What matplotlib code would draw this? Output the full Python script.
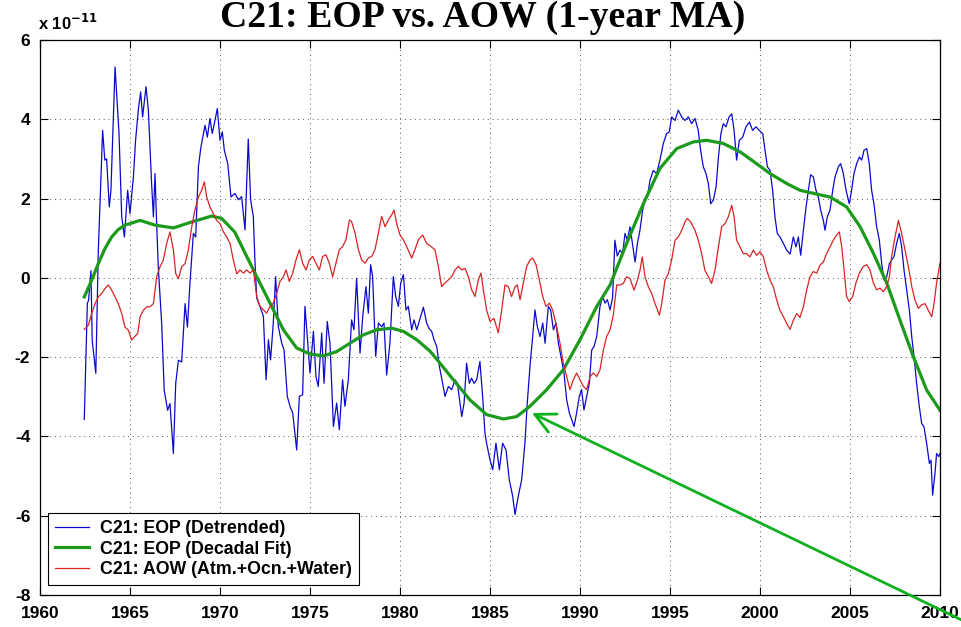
import matplotlib
matplotlib.use("Agg")
import matplotlib.pyplot as plt

plt.rcParams["font.family"] = ["Liberation Sans", "DejaVu Sans"]
plt.rcParams["axes.unicode_minus"] = False

# EOP detrended (units of 1e-11)
eop_year = [
    1962.46, 1962.63, 1962.70, 1962.83, 1962.90, 1963.10, 1963.24, 1963.48, 1963.60, 1963.70,
    1963.85, 1963.94, 1964.17, 1964.39, 1964.54, 1964.69, 1964.87, 1965.00, 1965.19, 1965.31,
    1965.46, 1965.59, 1965.70, 1965.89, 1966.02, 1966.20, 1966.30, 1966.39, 1966.48, 1966.57,
    1966.76, 1966.90, 1967.09, 1967.22, 1967.41, 1967.54, 1967.69, 1967.87, 1968.06, 1968.19,
    1968.33, 1968.52, 1968.65, 1968.80, 1968.94, 1969.17, 1969.30, 1969.44, 1969.57, 1969.72,
    1969.85, 1970.00, 1970.13, 1970.24, 1970.43, 1970.61, 1970.83, 1971.02, 1971.20, 1971.39,
    1971.57, 1971.70, 1971.85, 1971.94, 1972.04, 1972.22, 1972.41, 1972.56, 1972.69, 1972.81,
    1972.96, 1973.09, 1973.24, 1973.43, 1973.56, 1973.74, 1973.89, 1974.04, 1974.26, 1974.41,
    1974.59, 1974.72, 1974.85, 1975.00, 1975.19, 1975.33, 1975.46, 1975.65, 1975.78, 1975.96,
    1976.11, 1976.30, 1976.48, 1976.63, 1976.81, 1976.94, 1977.13, 1977.31, 1977.44, 1977.59,
    1977.78, 1977.93, 1978.11, 1978.24, 1978.37, 1978.48, 1978.65, 1978.80, 1978.98, 1979.11,
    1979.26, 1979.44, 1979.63, 1979.76, 1979.91, 1980.04, 1980.19, 1980.33, 1980.46, 1980.65,
    1980.78, 1980.93, 1981.13, 1981.30, 1981.48, 1981.62, 1981.76, 1981.89, 1982.04, 1982.19,
    1982.37, 1982.50, 1982.69, 1982.87, 1983.06, 1983.19, 1983.33, 1983.43, 1983.56, 1983.70,
    1983.85, 1983.98, 1984.11, 1984.26, 1984.44, 1984.59, 1984.72, 1984.81, 1985.00, 1985.15,
    1985.33, 1985.52, 1985.70, 1985.89, 1986.07, 1986.26, 1986.39, 1986.57, 1986.76, 1986.94,
    1987.07, 1987.22, 1987.37, 1987.50, 1987.63, 1987.78, 1987.93, 1988.06, 1988.24, 1988.37,
    1988.52, 1988.67, 1988.80, 1988.98, 1989.11, 1989.26, 1989.41, 1989.54, 1989.67, 1989.81,
    1989.96, 1990.09, 1990.22, 1990.37, 1990.52, 1990.65, 1990.78, 1990.93, 1991.11, 1991.26,
    1991.39, 1991.52, 1991.67, 1991.81, 1991.94, 1992.07, 1992.22, 1992.37, 1992.50, 1992.63,
    1992.78, 1992.91, 1993.06, 1993.19, 1993.33, 1993.48, 1993.61, 1993.74, 1993.89, 1994.07,
    1994.26, 1994.44, 1994.63, 1994.81, 1994.96, 1995.09, 1995.28, 1995.46, 1995.65, 1995.83,
    1996.02, 1996.20, 1996.39, 1996.57, 1996.70, 1996.85, 1997.00, 1997.13, 1997.26, 1997.41,
    1997.56, 1997.69, 1997.83, 1997.96, 1998.11, 1998.28, 1998.43, 1998.56, 1998.70, 1998.85,
    1999.04, 1999.22, 1999.41, 1999.59, 1999.78, 1999.96, 2000.15, 2000.28, 2000.41, 2000.56,
    2000.70, 2000.83, 2000.96, 2001.11, 2001.30, 2001.48, 2001.67, 2001.85, 2002.00, 2002.13,
    2002.26, 2002.41, 2002.56, 2002.69, 2002.81, 2002.96, 2003.11, 2003.24, 2003.37, 2003.52,
    2003.61, 2003.74, 2003.89, 2004.04, 2004.17, 2004.35, 2004.48, 2004.63, 2004.78, 2004.96,
    2005.09, 2005.22, 2005.37, 2005.52, 2005.65, 2005.78, 2005.93, 2006.07, 2006.20, 2006.33,
    2006.48, 2006.63, 2006.76, 2006.89, 2007.04, 2007.19, 2007.31, 2007.44, 2007.59, 2007.74,
    2007.87, 2008.00, 2008.15, 2008.30, 2008.43, 2008.56, 2008.70, 2008.85, 2008.98, 2009.11,
    2009.26, 2009.41, 2009.50, 2009.59, 2009.72, 2009.81, 2009.93, 2010.00,
]
eop_val = [
    -3.57, -0.65, -0.56, 0.18, -1.57, -2.41, 0.70, 3.72, 2.97, 3.00,
    1.79, 2.20, 5.32, 3.64, 1.54, 1.03, 2.21, 1.62, 2.55, 3.47,
    4.23, 4.69, 4.06, 4.82, 4.23, 2.38, 1.54, 2.63, 1.37, 0.28,
    -1.15, -2.83, -3.34, -3.17, -4.43, -2.66, -2.08, -2.12, -0.65, -1.24,
    -0.14, 1.12, 1.03, 2.80, 3.30, 3.85, 3.55, 4.02, 3.64, 3.97,
    4.27, 3.47, 3.68, 3.22, 2.88, 2.04, 2.13, 1.97, 2.05, 1.21,
    3.50, 1.97, 1.55, 0.45, -0.51, -0.72, -0.97, -2.57, -1.56, -2.07,
    -1.14, 0.03, -1.23, -1.65, -1.82, -2.99, -3.24, -3.41, -4.34, -2.99,
    -2.95, -0.72, -1.48, -2.40, -1.35, -2.49, -2.74, -1.39, -2.66, -1.10,
    -1.65, -3.75, -3.16, -3.83, -2.57, -3.24, -2.57, -1.06, -1.31, -0.01,
    -1.90, -0.97, -0.22, -0.89, 0.33, 0.03, -1.98, -1.14, -1.23, -1.14,
    -2.45, -1.65, 0.03, -0.47, -0.72, -0.13, 0.08, -0.81, -0.72, -1.31,
    -1.06, -1.31, -1.00, -0.74, -1.14, -1.28, -1.35, -1.56, -1.73, -2.24,
    -2.66, -2.99, -2.74, -2.82, -2.57, -2.66, -3.16, -3.50, -3.16, -2.15,
    -2.66, -2.53, -2.66, -2.57, -2.11, -2.99, -3.92, -4.17, -4.59, -4.84,
    -4.17, -4.84, -4.17, -4.34, -5.09, -5.51, -5.97, -5.51, -5.09, -4.17,
    -3.16, -2.24, -1.48, -0.81, -1.23, -1.48, -1.14, -1.65, -0.72, -0.81,
    -1.31, -1.14, -1.65, -2.07, -2.40, -3.08, -3.41, -3.58, -3.75, -3.41,
    -2.99, -2.82, -3.33, -2.99, -2.66, -1.82, -1.73, -1.48, -0.72, -0.47,
    -0.64, -0.55, -0.81, -0.50, 0.95, 0.55, 0.70, 0.61, 1.12, 0.95,
    1.29, 0.87, 0.40, 0.87, 1.20, 1.71, 1.96, 2.04, 2.46, 2.71,
    2.63, 2.97, 3.39, 3.64, 3.68, 4.06, 3.97, 4.23, 4.06, 3.97,
    4.06, 3.89, 4.02, 3.72, 3.22, 2.80, 2.63, 2.38, 1.87, 1.96,
    2.29, 3.05, 3.64, 3.89, 3.81, 4.06, 4.14, 3.72, 2.97, 3.47,
    3.55, 3.81, 3.93, 3.72, 3.81, 3.72, 3.64, 3.22, 2.80, 2.71,
    2.21, 1.54, 1.12, 1.03, 0.87, 0.70, 0.60, 1.03, 0.78, 1.03,
    0.57, 1.20, 1.79, 2.21, 2.60, 2.55, 2.21, 2.04, 1.71, 1.45,
    1.20, 1.54, 1.71, 2.21, 2.55, 2.80, 2.88, 2.63, 2.21, 1.87,
    2.21, 2.63, 2.88, 3.05, 2.97, 3.22, 3.26, 2.88, 2.21, 1.87,
    1.29, 0.95, 0.36, -0.05, 0.03, 0.36, 0.45, 0.53, 0.87, 1.12,
    0.78, 0.20, -0.30, -0.82, -1.49, -1.99, -2.66, -3.24, -3.67, -3.76,
    -4.18, -4.68, -4.60, -5.48, -4.94, -4.43, -4.51, -4.43,
]

# EOP decadal fit
fit_year = [
    1962.46, 1962.87, 1963.24, 1963.61, 1963.98, 1964.35, 1964.72, 1965.56, 1966.39, 1967.41,
    1968.43, 1969.54, 1970.09, 1970.83, 1971.30, 1972.04, 1972.78, 1973.52, 1974.26, 1975.00,
    1975.74, 1976.48, 1977.22, 1977.96, 1978.70, 1979.54, 1980.19, 1980.93, 1981.67, 1982.04,
    1982.96, 1983.89, 1984.81, 1985.74, 1986.48, 1987.22, 1988.15, 1989.07, 1990.00, 1990.93,
    1991.67, 1992.59, 1993.52, 1994.44, 1995.37, 1996.30, 1997.04, 1997.96, 1998.89, 1999.81,
    2000.56, 2001.48, 2002.22, 2002.78, 2003.89, 2004.81, 2005.56, 2006.30, 2007.04, 2007.78,
    2008.52, 2009.26, 2010.00,
]
fit_val = [
    -0.48, -0.06, 0.36, 0.74, 1.03, 1.22, 1.33, 1.45, 1.33, 1.26,
    1.41, 1.56, 1.50, 1.15, 0.71, 0.03, -0.64, -1.31, -1.77, -1.92,
    -1.97, -1.86, -1.65, -1.44, -1.31, -1.27, -1.35, -1.56, -1.85, -2.05,
    -2.57, -3.08, -3.45, -3.56, -3.50, -3.24, -2.82, -2.32, -1.56, -0.72,
    -0.18, 0.87, 1.87, 2.76, 3.26, 3.43, 3.47, 3.39, 3.18, 2.88,
    2.63, 2.38, 2.21, 2.15, 2.04, 1.79, 1.29, 0.62, -0.13, -1.07,
    -1.99, -2.83, -3.34,
]

# AOW (Atm.+Ocn.+Water)
aow_year = [
    1962.46, 1962.69, 1962.87, 1963.06, 1963.24, 1963.43, 1963.61, 1963.80, 1963.98, 1964.17,
    1964.35, 1964.54, 1964.72, 1964.91, 1965.09, 1965.24, 1965.43, 1965.56, 1965.74, 1965.93,
    1966.11, 1966.30, 1966.48, 1966.67, 1966.85, 1967.04, 1967.22, 1967.41, 1967.54, 1967.69,
    1967.87, 1968.06, 1968.24, 1968.43, 1968.61, 1968.80, 1968.98, 1969.13, 1969.26, 1969.44,
    1969.63, 1969.81, 1970.00, 1970.19, 1970.37, 1970.56, 1970.74, 1970.93, 1971.11, 1971.30,
    1971.48, 1971.67, 1971.85, 1972.04, 1972.22, 1972.41, 1972.59, 1972.78, 1972.96, 1973.15,
    1973.33, 1973.52, 1973.67, 1973.85, 1974.04, 1974.22, 1974.41, 1974.59, 1974.78, 1974.96,
    1975.15, 1975.33, 1975.52, 1975.70, 1975.89, 1976.07, 1976.26, 1976.44, 1976.63, 1976.81,
    1977.00, 1977.19, 1977.31, 1977.50, 1977.69, 1977.87, 1978.06, 1978.24, 1978.43, 1978.61,
    1978.80, 1978.98, 1979.17, 1979.35, 1979.54, 1979.67, 1979.81, 1980.00, 1980.19, 1980.37,
    1980.65, 1980.83, 1981.02, 1981.26, 1981.48, 1981.67, 1981.94, 1982.13, 1982.31, 1982.50,
    1982.69, 1982.87, 1983.06, 1983.24, 1983.43, 1983.61, 1983.80, 1983.98, 1984.17, 1984.35,
    1984.50, 1984.63, 1984.81, 1985.00, 1985.22, 1985.46, 1985.65, 1985.83, 1986.02, 1986.20,
    1986.39, 1986.52, 1986.67, 1986.85, 1987.04, 1987.22, 1987.37, 1987.56, 1987.74, 1987.93,
    1988.11, 1988.30, 1988.48, 1988.70, 1988.89, 1989.07, 1989.26, 1989.44, 1989.63, 1989.81,
    1990.00, 1990.19, 1990.37, 1990.56, 1990.74, 1990.93, 1991.11, 1991.30, 1991.48, 1991.67,
    1991.85, 1992.04, 1992.22, 1992.41, 1992.59, 1992.78, 1993.00, 1993.19, 1993.33, 1993.46,
    1993.61, 1993.80, 1993.98, 1994.17, 1994.41, 1994.54, 1994.72, 1994.91, 1995.09, 1995.28,
    1995.46, 1995.65, 1995.83, 1995.96, 1996.15, 1996.39, 1996.57, 1996.76, 1996.94, 1997.13,
    1997.31, 1997.50, 1997.69, 1997.87, 1998.06, 1998.24, 1998.43, 1998.56, 1998.70, 1998.89,
    1999.07, 1999.26, 1999.44, 1999.63, 1999.81, 2000.00, 2000.19, 2000.37, 2000.56, 2000.74,
    2000.93, 2001.11, 2001.30, 2001.48, 2001.67, 2001.85, 2002.04, 2002.22, 2002.41, 2002.59,
    2002.78, 2002.96, 2003.15, 2003.33, 2003.52, 2003.70, 2003.89, 2004.07, 2004.26, 2004.41,
    2004.54, 2004.67, 2004.81, 2004.96, 2005.15, 2005.33, 2005.52, 2005.74, 2005.93, 2006.11,
    2006.30, 2006.48, 2006.67, 2006.85, 2007.04, 2007.19, 2007.31, 2007.50, 2007.69, 2007.87,
    2008.06, 2008.24, 2008.43, 2008.61, 2008.80, 2008.98, 2009.17, 2009.35, 2009.54, 2009.67,
    2009.81, 2010.00,
]
aow_val = [
    -1.30, -1.19, -0.90, -0.65, -0.48, -0.39, -0.27, -0.18, -0.31, -0.48,
    -0.65, -0.90, -1.24, -1.32, -1.57, -1.49, -1.40, -0.98, -0.82, -0.73,
    -0.73, -0.65, 0.03, 0.28, 0.45, 0.87, 1.16, 0.70, 0.11, -0.02,
    0.28, 0.36, 0.70, 1.29, 1.71, 2.04, 2.21, 2.42, 2.04, 1.79,
    1.62, 1.45, 1.37, 1.16, 1.03, 0.87, 0.45, 0.10, 0.20, 0.12,
    0.20, 0.12, 0.20, -0.47, -0.72, -0.81, -0.89, -0.72, -0.64, -0.39,
    -0.09, 0.03, 0.20, -0.09, 0.12, 0.45, 0.71, 0.37, 0.20, 0.45,
    0.54, 0.37, 0.20, 0.54, 0.58, 0.37, 0.03, 0.37, 0.71, 0.79,
    0.96, 1.46, 1.42, 1.13, 0.71, 0.45, 0.37, 0.50, 0.54, 0.71,
    1.13, 1.55, 1.29, 1.46, 1.59, 1.71, 1.38, 1.08, 0.96, 0.79,
    0.50, 0.71, 0.96, 1.08, 0.87, 0.81, 0.71, 0.29, -0.22, -0.13,
    -0.05, 0.03, 0.20, 0.29, 0.20, 0.24, 0.03, -0.30, -0.47, -0.05,
    0.12, -0.30, -0.81, -1.10, -1.02, -1.39, -0.81, -0.18, -0.22, -0.47,
    -0.22, -0.18, -0.55, -0.13, 0.29, 0.45, 0.50, 0.33, -0.05, -0.47,
    -0.72, -0.64, -0.81, -1.23, -1.65, -2.15, -2.49, -2.82, -2.57, -2.40,
    -2.57, -2.74, -2.82, -2.49, -2.40, -2.49, -2.32, -1.82, -1.48, -1.31,
    -0.94, -0.18, -0.18, -0.14, 0.03, -0.02, -0.31, -0.06, 0.19, 0.53,
    0.03, -0.23, -0.39, -0.65, -0.94, -0.65, -0.06, 0.11, 0.45, 0.95,
    1.03, 1.20, 1.41, 1.50, 1.41, 1.20, 0.95, 0.61, 0.19, 0.03,
    -0.14, 0.19, 0.78, 1.29, 1.37, 1.54, 1.83, 1.54, 0.95, 0.78,
    0.61, 0.61, 0.53, 0.70, 0.57, 0.66, 0.53, 0.19, -0.06, -0.23,
    -0.56, -0.82, -0.98, -1.15, -1.30, -1.07, -0.90, -1.00, -0.73, -0.31,
    0.03, 0.16, 0.12, 0.32, 0.40, 0.61, 0.78, 0.95, 1.08, 1.16,
    0.78, 0.20, -0.47, -0.60, -0.47, -0.13, 0.12, 0.29, 0.33, 0.20,
    -0.13, -0.30, -0.26, -0.35, -0.22, 0.03, 0.53, 1.03, 1.45, 1.12,
    0.70, 0.29, -0.22, -0.56, -0.77, -0.68, -0.65, -0.82, -0.98, -0.65,
    -0.13, 0.37,
]

labels = ["C21: EOP (Detrended)", "C21: EOP (Decadal Fit)", "C21: AOW (Atm.+Ocn.+Water)"]
xticks = list(range(1960, 2011, 5))
yticks = list(range(-8, 7, 2))

fig = plt.figure(figsize=(9.61, 6.27), dpi=100)
ax = fig.add_axes([40 / 961, 32 / 627, 900 / 961, 555 / 627])

ax.plot(eop_year, eop_val, color="#0a0acc", lw=0.9, label=labels[0])
ax.plot(fit_year, fit_val, color="#1c9a1c", lw=2.3, label=labels[1])
ax.plot(aow_year, aow_val, color="#d82424", lw=0.9, label=labels[2])

ax.set_xlim(1960, 2010)
ax.set_ylim(-8, 6)
ax.set_xticks(xticks)
ax.set_yticks(yticks)
ax.grid(True, color="0.35", linestyle=(0, (1, 4)), lw=0.7)
ax.tick_params(direction="in", length=6, width=0.8, top=True, right=True, labelsize=12.5)
ax.tick_params(axis="x", pad=8)
ax.tick_params(axis="y", pad=7)
for lab in ax.get_xticklabels() + ax.get_yticklabels():
    lab.set_fontweight("bold")
for s in ax.spines.values():
    s.set_linewidth(0.9)

leg = ax.legend(loc="lower left", bbox_to_anchor=(0.009, 0.018), prop={"weight": "bold", "size": 12.8},
                fancybox=False, framealpha=1, edgecolor="black", borderpad=0.4,
                labelspacing=0.18, handlelength=1.9, handletextpad=0.6, borderaxespad=0)
leg.get_frame().set_linewidth(0.8)

fig.text(38 / 961, 1 - 30 / 627, r"x 10$^{\mathbf{-11}}$", fontsize=12, fontweight="bold")

fig.text(483 / 961, 1 - 27 / 627, "C21: EOP vs. AOW (1-year MA)", ha="center", va="baseline",
         fontsize=27.2, fontweight="bold", family=["Liberation Serif", "DejaVu Serif"])

ax.annotate("", xy=(1987.33, -3.41), xytext=(2011.2, -8.63),
            arrowprops=dict(arrowstyle="->", color="#10b020", lw=2.0, mutation_scale=36,
                            shrinkA=0, shrinkB=0),
            annotation_clip=False)

fig.savefig("out.png", dpi=100)
